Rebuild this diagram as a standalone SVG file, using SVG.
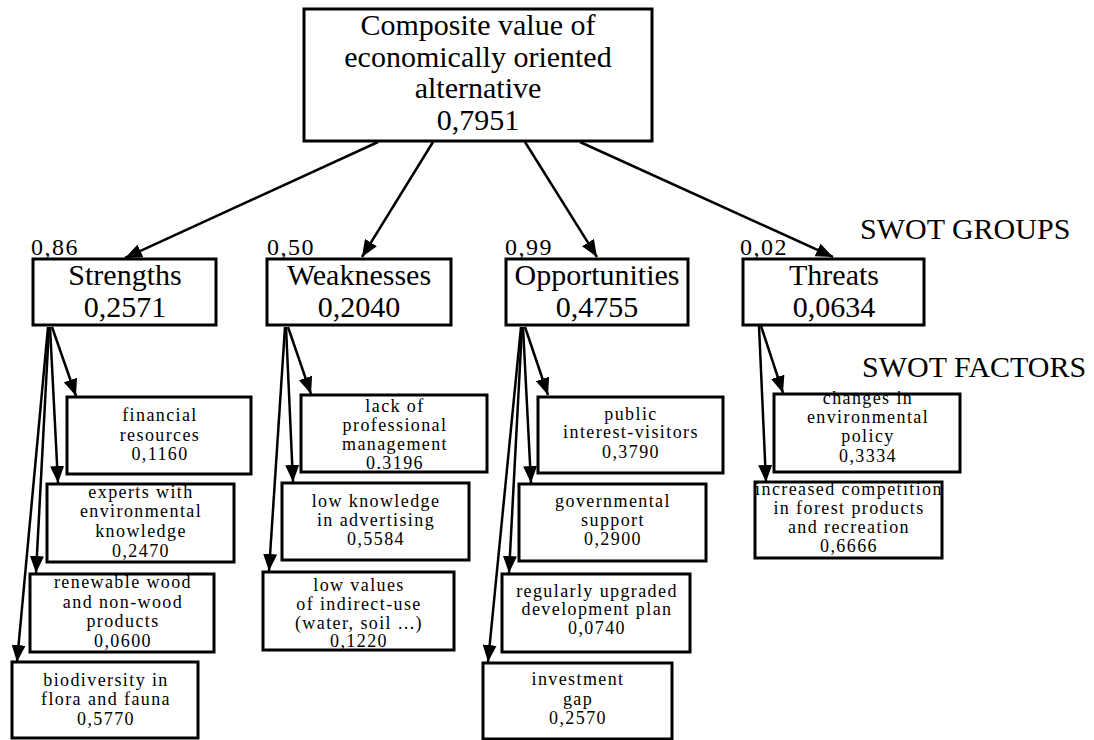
<svg xmlns="http://www.w3.org/2000/svg" width="1094" height="740" viewBox="0 0 1094 740">
<style>
  .box { fill: #fff; stroke: #000; stroke-width: 3; }
  .t30 { font-family: 'Liberation Serif', Tinos, 'Times New Roman', Times, 'DejaVu Serif', serif; font-size: 30px; text-anchor: middle; fill: #000; }
  .lbl { font-family: 'Liberation Serif', Tinos, 'Times New Roman', Times, 'DejaVu Serif', serif; font-size: 30px; fill: #000; }
  .w { font-family: 'Liberation Serif', Tinos, 'Times New Roman', Times, 'DejaVu Serif', serif; font-size: 24px; letter-spacing: 1.5px; fill: #000; }
  .f { font-family: 'Liberation Serif', Tinos, 'Times New Roman', Times, 'DejaVu Serif', serif; font-size: 18px; letter-spacing: 1.4px; text-anchor: middle; fill: #000; }
  .c { stroke: #000; stroke-width: 2.5; fill: none; marker-end: url(#ah); }
</style>
<defs>
  <marker id="ah" markerUnits="userSpaceOnUse" markerWidth="18" markerHeight="14" refX="17" refY="7" orient="auto">
    <path d="M0,0 L17,7 L0,14 z" fill="#000"/>
  </marker>
</defs>
<rect width="1094" height="740" fill="#fff"/>

<g id="connectors">
  <line class="c" x1="378" y1="142" x2="125" y2="258"/>
  <line class="c" x1="433" y1="142" x2="362" y2="257"/>
  <line class="c" x1="525" y1="142" x2="597" y2="257"/>
  <line class="c" x1="580" y1="142" x2="833" y2="257"/>

  <line class="c" x1="52" y1="327" x2="76" y2="396"/>
  <line class="c" x1="50" y1="327" x2="58" y2="483"/>
  <line class="c" x1="49" y1="327" x2="36" y2="573"/>
  <line class="c" x1="48" y1="327" x2="17" y2="662"/>

  <line class="c" x1="288" y1="327" x2="311" y2="394"/>
  <line class="c" x1="286" y1="327" x2="293" y2="482"/>
  <line class="c" x1="285" y1="327" x2="269" y2="571"/>

  <line class="c" x1="525" y1="327" x2="548" y2="395"/>
  <line class="c" x1="523" y1="327" x2="531" y2="483"/>
  <line class="c" x1="522" y1="327" x2="509" y2="573"/>
  <line class="c" x1="521" y1="327" x2="488" y2="662"/>

  <line class="c" x1="761" y1="326" x2="783" y2="393"/>
  <line class="c" x1="759" y1="326" x2="766" y2="482"/>
</g>

<g id="root">
  <rect class="box" x="304" y="9" width="348" height="132"/>
  <text class="t30" x="478" y="35">Composite value of</text>
  <text class="t30" x="478" y="67">economically oriented</text>
  <text class="t30" x="478" y="98">alternative</text>
  <text class="t30" x="478" y="130">0,7951</text>
</g>

<g id="labels">
  <text class="lbl" x="860" y="239">SWOT GROUPS</text>
  <text class="lbl" x="862" y="377">SWOT FACTORS</text>
  <text class="w" x="31" y="255">0,86</text>
  <text class="w" x="267" y="255">0,50</text>
  <text class="w" x="505" y="255">0,99</text>
  <text class="w" x="740" y="255">0,02</text>
</g>

<g id="strengths">
  <rect class="box" x="33" y="259" width="183" height="66"/>
  <text class="t30" x="125" y="285">Strengths</text>
  <text class="t30" x="125" y="317">0,2571</text>
</g>
<g id="weaknesses">
  <rect class="box" x="267" y="259" width="184" height="66"/>
  <text class="t30" x="359" y="285">Weaknesses</text>
  <text class="t30" x="359" y="317">0,2040</text>
</g>
<g id="opportunities">
  <rect class="box" x="506" y="259" width="182" height="66"/>
  <text class="t30" x="597" y="285">Opportunities</text>
  <text class="t30" x="597" y="317">0,4755</text>
</g>
<g id="threats">
  <rect class="box" x="743" y="259" width="181" height="66"/>
  <text class="t30" x="834" y="285">Threats</text>
  <text class="t30" x="834" y="317">0,0634</text>
</g>

<g id="s1">
  <rect class="box" x="67" y="397" width="184" height="77"/>
  <text class="f" x="160" y="421">financial</text>
  <text class="f" x="160" y="441">resources</text>
  <text class="f" x="160" y="460">0,1160</text>
</g>
<g id="s2">
  <rect class="box" x="47" y="484" width="187" height="78"/>
  <text class="f" x="141" y="498">experts with</text>
  <text class="f" x="141" y="517">environmental</text>
  <text class="f" x="141" y="537">knowledge</text>
  <text class="f" x="141" y="557">0,2470</text>
</g>
<g id="s3">
  <rect class="box" x="30" y="574" width="184" height="78"/>
  <text class="f" x="123" y="588">renewable wood</text>
  <text class="f" x="123" y="608">and non-wood</text>
  <text class="f" x="123" y="627">products</text>
  <text class="f" x="123" y="647">0,0600</text>
</g>
<g id="s4">
  <rect class="box" x="12" y="662" width="186" height="76"/>
  <text class="f" x="106" y="686">biodiversity in</text>
  <text class="f" x="106" y="705">flora and fauna</text>
  <text class="f" x="106" y="725">0,5770</text>
</g>

<g id="w1">
  <rect class="box" x="301" y="395" width="186" height="77"/>
  <text class="f" x="395" y="412">lack of</text>
  <text class="f" x="395" y="431">professional</text>
  <text class="f" x="395" y="450">management</text>
  <text class="f" x="395" y="469">0.3196</text>
</g>
<g id="w2">
  <rect class="box" x="282" y="483" width="187" height="77"/>
  <text class="f" x="376" y="507">low knowledge</text>
  <text class="f" x="376" y="526">in advertising</text>
  <text class="f" x="376" y="545">0,5584</text>
</g>
<g id="w3">
  <rect class="box" x="263" y="572" width="191" height="78"/>
  <text class="f" x="359" y="591">low values</text>
  <text class="f" x="359" y="610">of indirect-use</text>
  <text class="f" x="359" y="629">(water, soil ...)</text>
  <text class="f" x="359" y="647">0,1220</text>
</g>

<g id="o1">
  <rect class="box" x="538" y="397" width="185" height="76"/>
  <text class="f" x="631" y="420">public</text>
  <text class="f" x="631" y="438">interest-visitors</text>
  <text class="f" x="631" y="458">0,3790</text>
</g>
<g id="o2">
  <rect class="box" x="519" y="484" width="187" height="77"/>
  <text class="f" x="613" y="507">governmental</text>
  <text class="f" x="613" y="526">support</text>
  <text class="f" x="613" y="545">0,2900</text>
</g>
<g id="o3">
  <rect class="box" x="502" y="574" width="188" height="78"/>
  <text class="f" x="597" y="597">regularly upgraded</text>
  <text class="f" x="597" y="615">development plan</text>
  <text class="f" x="597" y="634">0,0740</text>
</g>
<g id="o4">
  <rect class="box" x="483" y="663" width="189" height="76"/>
  <text class="f" x="578" y="685">investment</text>
  <text class="f" x="578" y="705">gap</text>
  <text class="f" x="578" y="724">0,2570</text>
</g>

<g id="t1">
  <rect class="box" x="774" y="394" width="186" height="78"/>
  <text class="f" x="868" y="404">changes in</text>
  <text class="f" x="868" y="423">environmental</text>
  <text class="f" x="868" y="442">policy</text>
  <text class="f" x="868" y="462">0,3334</text>
</g>
<g id="t2">
  <rect class="box" x="755" y="482" width="187" height="76"/>
  <text class="f" x="849" y="495">increased competition</text>
  <text class="f" x="849" y="514">in forest products</text>
  <text class="f" x="849" y="533">and recreation</text>
  <text class="f" x="849" y="552">0,6666</text>
</g>
</svg>
